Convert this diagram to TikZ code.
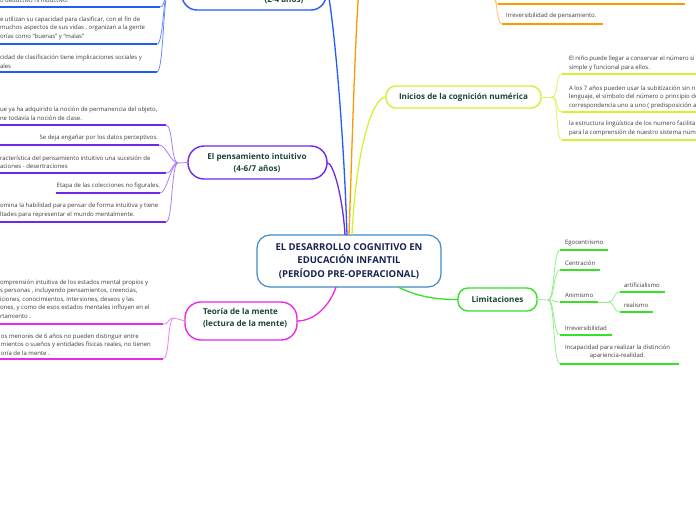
\documentclass[tikz,border=0pt]{standalone}
\usepackage{fontspec}
\setmainfont{Open Sans}
\definecolor{cblue}{RGB}{35,90,250}
\definecolor{cpurple}{RGB}{110,40,235}
\definecolor{corange}{RGB}{255,153,0}
\definecolor{cyellow}{RGB}{212,240,55}
\definecolor{cgreen}{RGB}{55,225,40}
\definecolor{cmag}{RGB}{235,40,235}
\definecolor{ccen}{RGB}{60,140,205}
\definecolor{tgreen}{RGB}{25,70,55}
\definecolor{tnavy}{RGB}{25,35,80}
\definecolor{tbody}{RGB}{60,60,60}
\tikzset{
  every node/.style={inner sep=0pt, outer sep=0pt},
  body/.style={font=\fontsize{6}{8.5}\selectfont, text=tbody, align=left},
  branch/.style={draw, line width=1.4pt, fill=white},
  btext/.style={font=\bfseries\fontsize{8.1}{12}\selectfont, text=tgreen, align=center},
  mainline/.style={line width=1.3pt},
  uline/.style={line width=1.7pt},
  twig/.style={line width=0.8pt},
}
\begin{document}
\begin{tikzpicture}[x=1pt,y=-1pt]
\useasboundingbox (0,0) rectangle (696,520);
% ---------- central ----------
\node[draw=ccen, line width=1.2pt, fill=white, rounded corners=13pt,
      minimum width=184pt, minimum height=52pt] (cen) at (349,261) {};
\node[font=\bfseries\fontsize{9.5}{13.5}\selectfont, text=tnavy, align=center] (cent) at (349,261)
  {EL DESARROLLO COGNITIVO EN\\EDUCACIÓN INFANTIL\\(PERÍODO PRE-OPERACIONAL)};
% ---------- branch boxes ----------
\node[branch, draw=cblue, rounded corners=15pt, minimum width=144pt, minimum height=50pt] (bl) at (254,-15) {};
\node[btext] (blt) at (284,0) {(2-4 años)};
\node[branch, draw=cpurple, rounded corners=16pt, minimum width=139pt, minimum height=33pt] (pi) at (257.5,162.5) {};
\node[btext] (pit) at (257,163) {El pensamiento intuitivo\\(4-6/7 años)};
\node[branch, draw=cyellow, rounded corners=10pt, minimum width=155pt, minimum height=22pt] (ini) at (463.5,97) {};
\node[btext] (init) at (463.5,97) {Inicios de la cognición numérica};
\node[branch, draw=cgreen, rounded corners=10pt, minimum width=79pt, minimum height=23pt] (lim) at (497.5,299.5) {};
\node[btext] (limt) at (497.5,299.5) {Limitaciones};
\node[branch, draw=cmag, rounded corners=16pt, minimum width=112pt, minimum height=38pt] (teo) at (241,321) {};
\node[btext, align=left, anchor=west] (teot) at (203,318) {Teoría de la mente\\(lectura de la mente)};
% ---------- main connectors ----------
\coordinate (orT) at (362,-45);
\draw[mainline, cpurple] ([xshift=-4pt]cen.north) .. controls (343,200) and (334,163) .. (pi.east);
\draw[mainline, cblue] ([xshift=-2pt]cen.north) .. controls (343,110) and (331,-5) .. (bl.east);
\draw[mainline, corange] ([xshift=0pt]cen.north) .. controls (353,120) and (356,0) .. (orT);
\draw[mainline, cyellow] ([xshift=3pt]cen.north) .. controls (356,150) and (372,97) .. (ini.west);
\draw[mainline, cgreen] (398,287) .. controls (420,298) and (440,299.5) .. (lim.west);
\draw[mainline, cmag] (336,287) .. controls (330,305) and (315,321) .. (teo.east);
% ---------- blue children ----------
\coordinate (blP) at (170,-15);
\coordinate (b0l) at (-5,7); \coordinate (b0r) at (160,7);
\coordinate (b1l) at (-5,44); \coordinate (b1r) at (157,44);
\coordinate (b2l) at (-5,72); \coordinate (b2r) at (157,72);
\node[body, anchor=west] (b0) at (0,0) {o deductivo ni inductivo.};
\node[body, anchor=west] (b1) at (0,28) {e utilizan su capacidad para clasificar, con el fin de\\ muchos aspectos de sus vidas , organizan a la gente\\ orías como “buenas” y “malas”};
\node[body, anchor=west] (b2) at (0,61.5) {cidad de clasificación tiene  implicaciones sociales y\\ales};
\draw[twig, cblue!70] (bl.west) -- (blP);
\foreach \c in {b0r,b1r,b2r} \draw[twig, cblue!70] (blP) .. controls +(-7,0) and +(7,0) .. (\c);
\draw[uline, cblue] (b0l) -- (b0r);
\draw[uline, cblue] (b1l) -- (b1r);
\draw[uline, cblue] (b2l) -- (b2r);
% ---------- purple children ----------
\coordinate (piP) at (178,163);
\coordinate (p1l) at (-5,125) ; \coordinate (p1r) at (166,125);
\coordinate (p2l) at (-5,145) ; \coordinate (p2r) at (159,145);
\coordinate (p3l) at (-5,173) ; \coordinate (p3r) at (166,173);
\coordinate (p4l) at (56,193) ; \coordinate (p4r) at (160,193);
\coordinate (p5l) at (-5,222) ; \coordinate (p5r) at (166,222);
\node[body, anchor=west] (p1) at (0,113.5) {ue ya ha adquirido la noción de permanencia  del objeto,\\ne todavía la noción de clase.};
\node[body, anchor=east] (p2) at (158,138) {Se deja engañar por los datos perceptivos.};
\node[body, anchor=west] (p3) at (0,162) {racterística del pensamiento intuitivo una sucesión de\\aciones - desertraciones};
\node[body, anchor=east] (p4) at (160,186) {Etapa de las colecciones no figurales.};
\node[body, anchor=west] (p5) at (0,210.5) {omina  la habilidad para pensar de forma intuitiva  y tiene\\ltades para representar el mundo mentalmente.};
\draw[twig, cpurple!60] (pi.west) -- (piP);
\foreach \c in {p1r,p2r,p3r,p4r,p5r} \draw[twig, cpurple!60] (piP) .. controls +(-7,0) and +(7,0) .. (\c);
\draw[uline, cpurple] (p1l) -- (p1r);
\draw[uline, cpurple] (p2l) -- (p2r);
\draw[uline, cpurple] (p3l) -- (p3r);
\draw[uline, cpurple] (p4l) -- (p4r);
\draw[uline, cpurple] (p5l) -- (p5r);
% ---------- teoria children ----------
\coordinate (teP) at (174,318);
\coordinate (t1l) at (-5,324) ; \coordinate (t1r) at (163,324);
\coordinate (t2l) at (-5,359) ; \coordinate (t2r) at (163,359);
\node[body, anchor=west] (t1) at (0,299) {omprensión intuitiva  de los estados mental propios  y\\s personas , incluyendo pensamientos, creencias,\\iciones, conocimientos, intersiones, deseos y las\\ones, y como de esos estados  mentales influyen en el\\rtamiento .};
\node[body, anchor=west] (t2) at (1,344.5) {os  menores de 6 años no pueden distinguir entre\\mientos  o sueños y entidades físicas  reales, no tienen\\oría de la mente .};
\draw[twig, cmag!60] (teo.west) -- (teP);
\foreach \c in {t1r,t2r} \draw[twig, cmag!60] (teP) .. controls +(-7,0) and +(7,0) .. (\c);
\draw[uline, cmag] (t1l) -- (t1r);
\draw[uline, cmag] (t2l) -- (t2r);
% ---------- orange children ----------
\coordinate (orP) at (490,-20);
\coordinate (o0l) at (498,4) ; \coordinate (o0r) at (685,4);
\coordinate (o1l) at (502,24) ; \coordinate (o1r) at (603,24);
\node[body, anchor=west] (o1) at (506,16) {Irreversibilidad de pensamiento.};
\foreach \c in {o0l,o1l} \draw[twig, corange!60] (orP) .. controls +(7,0) and +(-7,0) .. (\c);
\draw[uline, corange] (o0l) -- (o0r);
\draw[uline, corange] (o1l) -- (o1r);
% ---------- yellow children ----------
\coordinate (inP) at (552,97);
\coordinate (y1l) at (562,74) ; \coordinate (y1r) at (700,74);
\coordinate (y2l) at (562,112) ; \coordinate (y2r) at (700,112);
\coordinate (y3l) at (562,140) ; \coordinate (y3r) at (700,140);
\node[body, anchor=west] (y1) at (569,63.5) {El niño puede llegar a conservar el número si\\simple y funcional para ellos.};
\node[body, anchor=west] (y2) at (569,97) {A los 7 años  pueden usar la subitización sin n\\lenguaje, el símbolo del número o principio de\\correspondencia uno a uno ( predisposición a};
\node[body, anchor=west] (y3) at (569,128.5) {la estructura lingüística de los numero facilita\\para la comprensión de nuestro sistema nume};
\draw[twig, cyellow!80] (ini.east) -- (inP);
\foreach \c in {y1l,y2l,y3l} \draw[twig, cyellow!80] (inP) .. controls +(7,0) and +(-7,0) .. (\c);
\draw[uline, cyellow] (y1l) -- (y1r);
\draw[uline, cyellow] (y2l) -- (y2r);
\draw[uline, cyellow] (y3l) -- (y3r);
% ---------- green children ----------
\coordinate (liP) at (548,300);
\coordinate (g1l) at (560,250) ; \coordinate (g1r) at (608,250);
\coordinate (g2l) at (560,270) ; \coordinate (g2r) at (600,270);
\coordinate (g3l) at (560,302) ; \coordinate (g3r) at (598,302);
\coordinate (g4l) at (560,335) ; \coordinate (g4r) at (612,335);
\coordinate (g5l) at (560,364) ; \coordinate (g5r) at (679,364);
\node[body, anchor=west] (g1) at (565,243) {Egocentrismo};
\node[body, anchor=west] (g2) at (565,263) {Centración};
\node[body, anchor=west] (g3) at (565,295) {Animismo};
\node[body, anchor=west] (g4) at (565,328) {Irreversibilidad};
\node[body, anchor=west, align=center] (g5) at (565,352) {Incapacidad para realizar  la distinción\\apariencia-realidad.};
\draw[twig, cgreen!55] (lim.east) -- (liP);
\foreach \c in {g1l,g2l,g3l,g4l,g5l} \draw[twig, cgreen!55] (liP) .. controls +(7,0) and +(-7,0) .. (\c);
\draw[uline, cgreen] (g1l) -- (g1r);
\draw[uline, cgreen] (g2l) -- (g2r);
\draw[uline, cgreen] (g3l) -- (g3r);
\draw[uline, cgreen] (g4l) -- (g4r);
\draw[uline, cgreen] (g5l) -- (g5r);
% animismo sub
\coordinate (anP) at (608,302);
\coordinate (a1l) at (620,292) ; \coordinate (a1r) at (665,292);
\coordinate (a2l) at (620,312) ; \coordinate (a2r) at (653,312);
\node[body, anchor=west] (a1) at (624,285) {artificialismo};
\node[body, anchor=west] (a2) at (624,305) {realismo};
\draw[twig, cgreen!55] (g3r) -- (anP);
\foreach \c in {a1l,a2l} \draw[twig, cgreen!55] (anP) .. controls +(7,0) and +(-7,0) .. (\c);
\draw[uline, cgreen] (a1l) -- (a1r);
\draw[uline, cgreen] (a2l) -- (a2r);
\end{tikzpicture}
\end{document}
